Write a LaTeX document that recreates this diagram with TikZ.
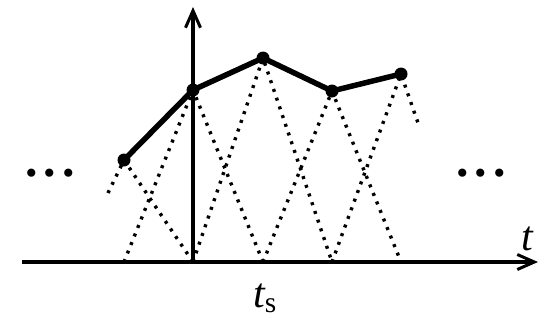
\documentclass[tikz,border=0pt]{standalone}
\usepackage{fontspec}
\setmainfont{Liberation Serif}
\usetikzlibrary{arrows.meta}
\begin{document}
\begin{tikzpicture}[x=1pt,y=-1pt,
  axis/.style={line width=3.2pt,-{Straight Barb[length=17pt,width=15pt,line width=3pt]}},
  samp/.style={circle,fill=black,inner sep=0pt,minimum size=13pt},
  curve/.style={line width=5.5pt,line join=round},
  tri/.style={line width=3.4pt,dash pattern=on 3pt off 6.2pt},
  lbl/.style={font=\fontsize{42}{42}\selectfont\itshape,inner sep=0pt},
  dots/.style={font=\fontsize{50}{50}\selectfont\bfseries,inner sep=0pt}]
\useasboundingbox (0,0) rectangle (545,324);
% axes
\coordinate (xa) at (22,262);
\coordinate (xb) at (538,262);
\coordinate (ya) at (193,262);
\coordinate (yb) at (193,7);
% base points
\coordinate (b0) at (124,262);
\coordinate (b1) at (193,262);
\coordinate (b2) at (263,262);
\coordinate (b3) at (332,262);
\coordinate (b4) at (401,262);
\coordinate (lp) at (108,193);
\coordinate (rp) at (418,123);
% samples
\node[samp] (p0) at (124,160) {};
\node[samp] (p1) at (193,90) {};
\node[samp] (p2) at (263,58) {};
\node[samp] (p3) at (332,91) {};
\node[samp] (p4) at (401,74) {};
% triangles
\draw[tri] (lp) -- (p0.center) -- (b1);
\draw[tri] (b0) -- (p1.center) -- (b2);
\draw[tri] (b1) -- (p2.center) -- (b3);
\draw[tri] (b2) -- (p3.center) -- (b4);
\draw[tri] (b3) -- (p4.center) -- (rp);
% axes
\draw[axis] (xa) -- (xb);
\draw[axis] (ya) -- (yb);
% interpolated curve
\draw[curve] (p0.center) -- (p1.center) -- (p2.center) -- (p3.center) -- (p4.center);
% ellipses
\node[dots,anchor=base] (dl) at (50,176) {.\hspace{6pt}.\hspace{6pt}.};
\node[dots,anchor=base] (dr) at (481,176) {.\hspace{6pt}.\hspace{6pt}.};
% labels
\node[lbl,anchor=base] (tl) at (527,250) {t};
\node[lbl,anchor=base] (tsl) at (265,307) {t\textsubscript{\upshape s}};
\end{tikzpicture}
\end{document}
